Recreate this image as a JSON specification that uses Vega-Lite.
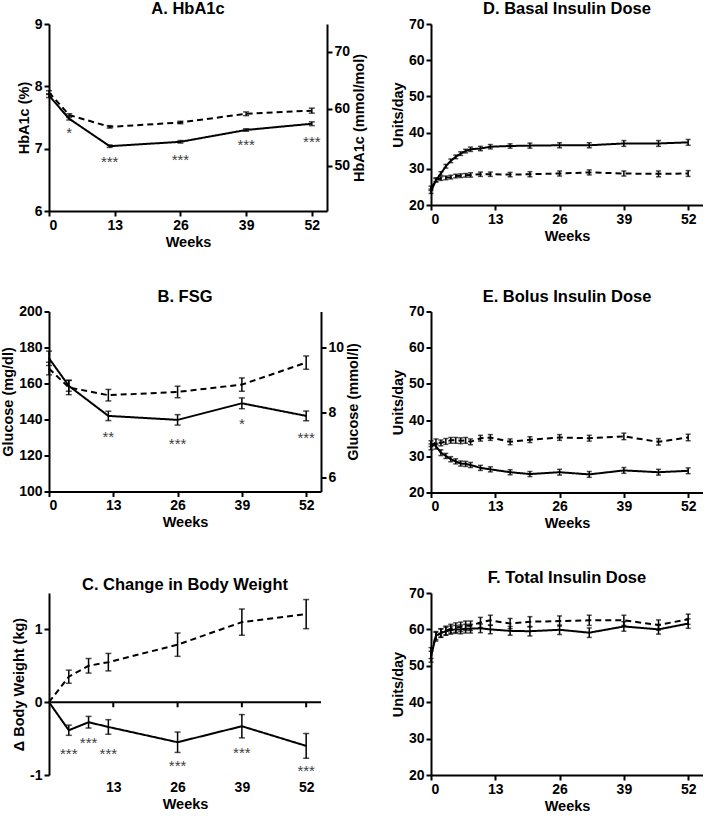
{
  "$schema": "https://vega.github.io/schema/vega-lite/v6.json",
  "padding": {"left": 0, "top": 1, "right": 0, "bottom": 0},
  "datasets": {
    "hba1c": [
      {"week": 0, "arm": "Active", "mean": 7.85, "se": 0.03},
      {"week": 4, "arm": "Active", "mean": 7.48, "se": 0.02},
      {"week": 12, "arm": "Active", "mean": 7.04, "se": 0.02},
      {"week": 26, "arm": "Active", "mean": 7.11, "se": 0.02},
      {"week": 39, "arm": "Active", "mean": 7.30, "se": 0.02},
      {"week": 52, "arm": "Active", "mean": 7.40, "se": 0.03},
      {"week": 0, "arm": "Control", "mean": 7.90, "se": 0.03},
      {"week": 4, "arm": "Control", "mean": 7.54, "se": 0.02},
      {"week": 12, "arm": "Control", "mean": 7.35, "se": 0.02},
      {"week": 26, "arm": "Control", "mean": 7.42, "se": 0.02},
      {"week": 39, "arm": "Control", "mean": 7.56, "se": 0.03},
      {"week": 52, "arm": "Control", "mean": 7.61, "se": 0.04}
    ],
    "fsg": [
      {"week": 0, "arm": "Active", "mean": 174, "se": 4},
      {"week": 4, "arm": "Active", "mean": 158.7, "se": 3},
      {"week": 12, "arm": "Active", "mean": 142, "se": 2.6},
      {"week": 26, "arm": "Active", "mean": 139.8, "se": 2.9},
      {"week": 39, "arm": "Active", "mean": 149, "se": 3},
      {"week": 52, "arm": "Active", "mean": 142, "se": 2.7},
      {"week": 0, "arm": "Control", "mean": 168.3, "se": 3.5},
      {"week": 4, "arm": "Control", "mean": 157.8, "se": 4},
      {"week": 12, "arm": "Control", "mean": 153.5, "se": 3.2},
      {"week": 26, "arm": "Control", "mean": 155.3, "se": 3.2},
      {"week": 39, "arm": "Control", "mean": 159.4, "se": 3.7},
      {"week": 52, "arm": "Control", "mean": 171.6, "se": 3.7}
    ],
    "weight": [
      {"week": 0, "arm": "Active", "mean": 0, "se": 0},
      {"week": 4, "arm": "Active", "mean": -0.385, "se": 0.07},
      {"week": 8, "arm": "Active", "mean": -0.275, "se": 0.08},
      {"week": 12, "arm": "Active", "mean": -0.34, "se": 0.10},
      {"week": 26, "arm": "Active", "mean": -0.55, "se": 0.14},
      {"week": 39, "arm": "Active", "mean": -0.33, "se": 0.16},
      {"week": 52, "arm": "Active", "mean": -0.60, "se": 0.17},
      {"week": 0, "arm": "Control", "mean": 0, "se": 0},
      {"week": 4, "arm": "Control", "mean": 0.35, "se": 0.09},
      {"week": 8, "arm": "Control", "mean": 0.50, "se": 0.10},
      {"week": 12, "arm": "Control", "mean": 0.55, "se": 0.12},
      {"week": 26, "arm": "Control", "mean": 0.79, "se": 0.16},
      {"week": 39, "arm": "Control", "mean": 1.10, "se": 0.18},
      {"week": 52, "arm": "Control", "mean": 1.21, "se": 0.20}
    ],
    "basal": [
      {"week": 0, "arm": "Active", "mean": 23.8, "se": 0.6},
      {"week": 1, "arm": "Active", "mean": 26.8, "se": 0.5},
      {"week": 2, "arm": "Active", "mean": 28.7, "se": 0.5},
      {"week": 3, "arm": "Active", "mean": 30.7, "se": 0.5},
      {"week": 4, "arm": "Active", "mean": 32.2, "se": 0.5},
      {"week": 5, "arm": "Active", "mean": 33.3, "se": 0.5},
      {"week": 6, "arm": "Active", "mean": 34.2, "se": 0.5},
      {"week": 7, "arm": "Active", "mean": 34.9, "se": 0.5},
      {"week": 8, "arm": "Active", "mean": 35.4, "se": 0.6},
      {"week": 10, "arm": "Active", "mean": 35.6, "se": 0.6},
      {"week": 12, "arm": "Active", "mean": 36.1, "se": 0.6},
      {"week": 16, "arm": "Active", "mean": 36.3, "se": 0.6},
      {"week": 20, "arm": "Active", "mean": 36.4, "se": 0.7},
      {"week": 26, "arm": "Active", "mean": 36.5, "se": 0.7},
      {"week": 32, "arm": "Active", "mean": 36.5, "se": 0.7},
      {"week": 39, "arm": "Active", "mean": 37.0, "se": 0.8},
      {"week": 46, "arm": "Active", "mean": 37.0, "se": 0.8},
      {"week": 52, "arm": "Active", "mean": 37.3, "se": 0.8},
      {"week": 0, "arm": "Control", "mean": 24.6, "se": 0.6},
      {"week": 1, "arm": "Control", "mean": 27.0, "se": 0.5},
      {"week": 2, "arm": "Control", "mean": 27.3, "se": 0.5},
      {"week": 3, "arm": "Control", "mean": 27.5, "se": 0.5},
      {"week": 4, "arm": "Control", "mean": 27.7, "se": 0.5},
      {"week": 5, "arm": "Control", "mean": 28.0, "se": 0.5},
      {"week": 6, "arm": "Control", "mean": 28.1, "se": 0.5},
      {"week": 7, "arm": "Control", "mean": 28.2, "se": 0.5},
      {"week": 8, "arm": "Control", "mean": 28.3, "se": 0.6},
      {"week": 10, "arm": "Control", "mean": 28.5, "se": 0.6},
      {"week": 12, "arm": "Control", "mean": 28.5, "se": 0.6},
      {"week": 16, "arm": "Control", "mean": 28.4, "se": 0.6},
      {"week": 20, "arm": "Control", "mean": 28.5, "se": 0.7},
      {"week": 26, "arm": "Control", "mean": 28.7, "se": 0.7},
      {"week": 32, "arm": "Control", "mean": 29.0, "se": 0.7},
      {"week": 39, "arm": "Control", "mean": 28.7, "se": 0.7},
      {"week": 46, "arm": "Control", "mean": 28.6, "se": 0.8},
      {"week": 52, "arm": "Control", "mean": 28.7, "se": 0.8}
    ],
    "bolus": [
      {"week": 0, "arm": "Active", "mean": 33.5, "se": 0.8},
      {"week": 1, "arm": "Active", "mean": 32.8, "se": 0.8},
      {"week": 2, "arm": "Active", "mean": 31.0, "se": 0.8},
      {"week": 3, "arm": "Active", "mean": 30.1, "se": 0.7},
      {"week": 4, "arm": "Active", "mean": 29.2, "se": 0.7},
      {"week": 5, "arm": "Active", "mean": 28.6, "se": 0.7},
      {"week": 6, "arm": "Active", "mean": 28.0, "se": 0.7},
      {"week": 7, "arm": "Active", "mean": 27.9, "se": 0.7},
      {"week": 8, "arm": "Active", "mean": 27.6, "se": 0.7},
      {"week": 10, "arm": "Active", "mean": 26.8, "se": 0.7},
      {"week": 12, "arm": "Active", "mean": 26.4, "se": 0.7},
      {"week": 16, "arm": "Active", "mean": 25.6, "se": 0.7},
      {"week": 20, "arm": "Active", "mean": 25.1, "se": 0.7},
      {"week": 26, "arm": "Active", "mean": 25.6, "se": 0.8},
      {"week": 32, "arm": "Active", "mean": 25.0, "se": 0.8},
      {"week": 39, "arm": "Active", "mean": 26.1, "se": 0.8},
      {"week": 46, "arm": "Active", "mean": 25.6, "se": 0.8},
      {"week": 52, "arm": "Active", "mean": 26.0, "se": 0.8},
      {"week": 0, "arm": "Control", "mean": 32.6, "se": 0.8},
      {"week": 1, "arm": "Control", "mean": 34.0, "se": 0.8},
      {"week": 2, "arm": "Control", "mean": 33.7, "se": 0.8},
      {"week": 3, "arm": "Control", "mean": 34.1, "se": 0.8},
      {"week": 4, "arm": "Control", "mean": 34.4, "se": 0.8},
      {"week": 5, "arm": "Control", "mean": 34.4, "se": 0.8},
      {"week": 6, "arm": "Control", "mean": 34.3, "se": 0.8},
      {"week": 7, "arm": "Control", "mean": 34.4, "se": 0.8},
      {"week": 8, "arm": "Control", "mean": 34.0, "se": 0.8},
      {"week": 10, "arm": "Control", "mean": 35.0, "se": 0.8},
      {"week": 12, "arm": "Control", "mean": 35.2, "se": 0.8},
      {"week": 16, "arm": "Control", "mean": 34.0, "se": 0.8},
      {"week": 20, "arm": "Control", "mean": 34.6, "se": 0.8},
      {"week": 26, "arm": "Control", "mean": 35.2, "se": 0.8},
      {"week": 32, "arm": "Control", "mean": 35.0, "se": 0.8},
      {"week": 39, "arm": "Control", "mean": 35.5, "se": 0.9},
      {"week": 46, "arm": "Control", "mean": 34.0, "se": 0.9},
      {"week": 52, "arm": "Control", "mean": 35.2, "se": 0.9}
    ],
    "total": [
      {"week": 0, "arm": "Active", "mean": 52.5, "se": 1.5},
      {"week": 1, "arm": "Active", "mean": 58.3, "se": 1.1},
      {"week": 2, "arm": "Active", "mean": 59.0, "se": 1.1},
      {"week": 3, "arm": "Active", "mean": 59.5, "se": 1.1},
      {"week": 4, "arm": "Active", "mean": 59.8, "se": 1.1},
      {"week": 5, "arm": "Active", "mean": 60.0, "se": 1.1},
      {"week": 6, "arm": "Active", "mean": 60.0, "se": 1.2},
      {"week": 7, "arm": "Active", "mean": 60.2, "se": 1.2},
      {"week": 8, "arm": "Active", "mean": 60.2, "se": 1.2},
      {"week": 10, "arm": "Active", "mean": 60.3, "se": 1.2},
      {"week": 12, "arm": "Active", "mean": 60.0, "se": 1.2},
      {"week": 16, "arm": "Active", "mean": 59.6, "se": 1.2},
      {"week": 20, "arm": "Active", "mean": 59.5, "se": 1.3},
      {"week": 26, "arm": "Active", "mean": 59.9, "se": 1.3},
      {"week": 32, "arm": "Active", "mean": 59.1, "se": 1.3},
      {"week": 39, "arm": "Active", "mean": 60.8, "se": 1.3},
      {"week": 46, "arm": "Active", "mean": 60.0, "se": 1.3},
      {"week": 52, "arm": "Active", "mean": 61.6, "se": 1.3},
      {"week": 0, "arm": "Control", "mean": 53.5, "se": 1.5},
      {"week": 1, "arm": "Control", "mean": 58.0, "se": 1.2},
      {"week": 2, "arm": "Control", "mean": 59.0, "se": 1.2},
      {"week": 3, "arm": "Control", "mean": 59.7, "se": 1.2},
      {"week": 4, "arm": "Control", "mean": 60.2, "se": 1.2},
      {"week": 5, "arm": "Control", "mean": 60.5, "se": 1.3},
      {"week": 6, "arm": "Control", "mean": 60.7, "se": 1.3},
      {"week": 7, "arm": "Control", "mean": 61.0, "se": 1.3},
      {"week": 8, "arm": "Control", "mean": 61.0, "se": 1.3},
      {"week": 10, "arm": "Control", "mean": 61.9, "se": 1.4},
      {"week": 12, "arm": "Control", "mean": 62.5, "se": 1.4},
      {"week": 16, "arm": "Control", "mean": 61.6, "se": 1.4},
      {"week": 20, "arm": "Control", "mean": 62.1, "se": 1.4},
      {"week": 26, "arm": "Control", "mean": 62.3, "se": 1.4},
      {"week": 32, "arm": "Control", "mean": 62.5, "se": 1.4},
      {"week": 39, "arm": "Control", "mean": 62.5, "se": 1.4},
      {"week": 46, "arm": "Control", "mean": 61.2, "se": 1.4},
      {"week": 52, "arm": "Control", "mean": 62.8, "se": 1.4}
    ],
    "starsA": [
      {"week": 4, "y": 7.30, "label": "*"},
      {"week": 12, "y": 6.84, "label": "***"},
      {"week": 26, "y": 6.86, "label": "***"},
      {"week": 39, "y": 7.10, "label": "***"},
      {"week": 52, "y": 7.15, "label": "***"}
    ],
    "starsB": [
      {"week": 12, "y": 132, "label": "**"},
      {"week": 26, "y": 128, "label": "***"},
      {"week": 39, "y": 139, "label": "*"},
      {"week": 52, "y": 131.5, "label": "***"}
    ],
    "starsC": [
      {"week": 4, "y": -0.67, "label": "***"},
      {"week": 8, "y": -0.52, "label": "***"},
      {"week": 12, "y": -0.67, "label": "***"},
      {"week": 26, "y": -0.84, "label": "***"},
      {"week": 39, "y": -0.65, "label": "***"},
      {"week": 52, "y": -0.91, "label": "***"}
    ],
    "ticksC": [{"week": 13}, {"week": 26}, {"week": 39}, {"week": 52}]
  },
  "columns": 2,
  "spacing": {"row": 39.5, "column": 23},
  "concat": [
    {
      "title": "A. HbA1c",
      "width": 278, "height": 187,
      "layer": [
        {
          "layer": [
            {
              "data": {"name": "hba1c"},
              "mark": {"type": "line", "color": "black", "strokeWidth": 2},
              "encoding": {
                "x": {"field": "week", "type": "quantitative", "title": "Weeks", "scale": {"domain": [0, 55], "nice": false}, "axis": {"values": [0, 13, 26, 39, 52], "titlePadding": 3}},
                "y": {"field": "mean", "type": "quantitative", "title": "HbA1c (%)", "scale": {"domain": [6, 9], "nice": false, "zero": false}, "axis": {"values": [6, 7, 8, 9], "format": "d"}},
                "strokeDash": {"field": "arm", "type": "nominal", "scale": {"domain": ["Active", "Control"], "range": [[1, 0], [6, 4]]}, "legend": null}
              }
            },
            {
              "data": {"name": "hba1c"},
              "mark": {"type": "errorbar", "color": "black", "ticks": {"size": 6, "thickness": 1.5}, "rule": {"strokeWidth": 1.5}},
              "encoding": {
                "x": {"field": "week", "type": "quantitative", "title": "Weeks"},
                "y": {"field": "mean", "type": "quantitative", "title": "HbA1c (%)", "scale": {"domain": [6, 9], "nice": false, "zero": false}, "axis": {"values": [6, 7, 8, 9], "format": "d"}},
                "yError": {"field": "se"}
              }
            },
            {
              "data": {"name": "starsA"},
              "mark": {"type": "text", "fontSize": 15, "color": "#404040", "baseline": "middle", "dy": 3},
              "encoding": {
                "x": {"field": "week", "type": "quantitative", "title": "Weeks"},
                "y": {"field": "y", "type": "quantitative", "title": "HbA1c (%)", "scale": {"domain": [6, 9], "nice": false, "zero": false}, "axis": {"values": [6, 7, 8, 9], "format": "d"}},
                "text": {"field": "label"}
              }
            }
          ]
        },
        {
          "data": {"values": [{}]},
          "mark": {"type": "rule", "opacity": 0},
          "encoding": {
            "y": {"datum": 60, "type": "quantitative", "scale": {"domain": [42.08, 74.86], "nice": false, "zero": false}, "axis": {"orient": "right", "title": "HbA1c (mmol/mol)", "values": [50, 60, 70], "format": "d", "titleAngle": 270, "titleBaseline": "top"}}
          }
        }
      ],
      "resolve": {"scale": {"y": "independent"}}
    },
    {
      "title": "D. Basal Insulin Dose",
      "width": 272, "height": 181,
      "data": {"name": "basal"},
      "encoding": {
        "x": {"field": "week", "type": "quantitative", "title": "Weeks", "scale": {"domain": [0, 55], "nice": false}, "axis": {"values": [0, 13, 26, 39, 52], "titlePadding": 3}},
        "y": {"field": "mean", "type": "quantitative", "title": "Units/day", "scale": {"domain": [20, 70], "nice": false, "zero": false}, "axis": {"values": [20, 30, 40, 50, 60, 70], "format": "d"}}
      },
      "layer": [
        {
          "mark": {"type": "line", "color": "black", "strokeWidth": 2},
          "encoding": {
            "strokeDash": {"field": "arm", "type": "nominal", "scale": {"domain": ["Active", "Control"], "range": [[1, 0], [6, 4]]}, "legend": null}
          }
        },
        {
          "mark": {"type": "errorbar", "color": "black", "ticks": {"size": 5, "thickness": 1.5}, "rule": {"strokeWidth": 1.5}},
          "encoding": {"yError": {"field": "se"}}
        }
      ]
    },
    {
      "title": "B. FSG",
      "width": 272, "height": 180,
      "layer": [
        {
          "layer": [
            {
              "data": {"name": "fsg"},
              "mark": {"type": "line", "color": "black", "strokeWidth": 2},
              "encoding": {
                "x": {"field": "week", "type": "quantitative", "title": "Weeks", "scale": {"domain": [0, 55], "nice": false}, "axis": {"values": [0, 13, 26, 39, 52], "titlePadding": 3}},
                "y": {"field": "mean", "type": "quantitative", "title": "Glucose (mg/dl)", "scale": {"domain": [100, 200], "nice": false, "zero": false}, "axis": {"values": [100, 120, 140, 160, 180, 200], "format": "d"}},
                "strokeDash": {"field": "arm", "type": "nominal", "scale": {"domain": ["Active", "Control"], "range": [[1, 0], [6, 4]]}, "legend": null}
              }
            },
            {
              "data": {"name": "fsg"},
              "mark": {"type": "errorbar", "color": "black", "ticks": {"size": 6, "thickness": 1.5}, "rule": {"strokeWidth": 1.5}},
              "encoding": {
                "x": {"field": "week", "type": "quantitative", "title": "Weeks"},
                "y": {"field": "mean", "type": "quantitative", "title": "Glucose (mg/dl)", "scale": {"domain": [100, 200], "nice": false, "zero": false}, "axis": {"values": [100, 120, 140, 160, 180, 200], "format": "d"}},
                "yError": {"field": "se"}
              }
            },
            {
              "data": {"name": "starsB"},
              "mark": {"type": "text", "fontSize": 15, "color": "#404040", "baseline": "middle", "dy": 3},
              "encoding": {
                "x": {"field": "week", "type": "quantitative", "title": "Weeks"},
                "y": {"field": "y", "type": "quantitative", "title": "Glucose (mg/dl)", "scale": {"domain": [100, 200], "nice": false, "zero": false}, "axis": {"values": [100, 120, 140, 160, 180, 200], "format": "d"}},
                "text": {"field": "label"}
              }
            }
          ]
        },
        {
          "data": {"values": [{}]},
          "mark": {"type": "rule", "opacity": 0},
          "encoding": {
            "y": {"datum": 8, "type": "quantitative", "scale": {"domain": [5.556, 11.111], "nice": false, "zero": false}, "axis": {"orient": "right", "title": "Glucose (mmol/l)", "values": [6, 8, 10], "format": "d", "titleAngle": 270, "titleBaseline": "top"}}
          }
        }
      ],
      "resolve": {"scale": {"y": "independent"}}
    },
    {
      "title": "E. Bolus Insulin Dose",
      "width": 272, "height": 181,
      "data": {"name": "bolus"},
      "encoding": {
        "x": {"field": "week", "type": "quantitative", "title": "Weeks", "scale": {"domain": [0, 55], "nice": false}, "axis": {"values": [0, 13, 26, 39, 52], "titlePadding": 3}},
        "y": {"field": "mean", "type": "quantitative", "title": "Units/day", "scale": {"domain": [20, 70], "nice": false, "zero": false}, "axis": {"values": [20, 30, 40, 50, 60, 70], "format": "d"}}
      },
      "layer": [
        {
          "mark": {"type": "line", "color": "black", "strokeWidth": 2},
          "encoding": {
            "strokeDash": {"field": "arm", "type": "nominal", "scale": {"domain": ["Active", "Control"], "range": [[1, 0], [6, 4]]}, "legend": null}
          }
        },
        {
          "mark": {"type": "errorbar", "color": "black", "ticks": {"size": 5, "thickness": 1.5}, "rule": {"strokeWidth": 1.5}},
          "encoding": {"yError": {"field": "se"}}
        }
      ]
    },
    {
      "title": "C. Change in Body Weight",
      "width": 272, "height": 182,
      "layer": [
        {
          "data": {"values": [{}]},
          "mark": {"type": "rule", "color": "black", "strokeWidth": 2},
          "encoding": {
            "y": {"datum": 0, "type": "quantitative", "title": "Δ Body Weight (kg)", "scale": {"domain": [-1, 1.5], "nice": false, "zero": false}, "axis": {"values": [-1, 0, 1], "labelExpr": "'' + datum.value"}}
          }
        },
        {
          "data": {"name": "ticksC"},
          "mark": {"type": "rule", "color": "black", "strokeWidth": 2},
          "encoding": {
            "x": {"field": "week", "type": "quantitative", "title": "Weeks", "scale": {"domain": [0, 55], "nice": false}, "axis": {"values": [13, 26, 39, 52], "domain": false, "ticks": false, "labelPadding": 5, "titlePadding": 3}},
            "y": {"datum": 0, "type": "quantitative", "title": "Δ Body Weight (kg)", "axis": {"values": [-1, 0, 1], "labelExpr": "'' + datum.value"}},
            "y2": {"datum": -0.07}
          }
        },
        {
          "data": {"name": "weight"},
          "mark": {"type": "line", "color": "black", "strokeWidth": 2},
          "encoding": {
            "x": {"field": "week", "type": "quantitative", "title": "Weeks", "axis": {"values": [13, 26, 39, 52], "domain": false, "ticks": false, "labelPadding": 5, "titlePadding": 3}},
            "y": {"field": "mean", "type": "quantitative", "title": "Δ Body Weight (kg)", "axis": {"values": [-1, 0, 1], "labelExpr": "'' + datum.value"}},
            "strokeDash": {"field": "arm", "type": "nominal", "scale": {"domain": ["Active", "Control"], "range": [[1, 0], [6, 4]]}, "legend": null}
          }
        },
        {
          "data": {"name": "weight"},
          "transform": [{"filter": "datum.se > 0"}],
          "mark": {"type": "errorbar", "color": "black", "ticks": {"size": 6, "thickness": 1.5}, "rule": {"strokeWidth": 1.5}},
          "encoding": {
            "x": {"field": "week", "type": "quantitative", "title": "Weeks", "axis": {"values": [13, 26, 39, 52], "domain": false, "ticks": false, "labelPadding": 5, "titlePadding": 3}},
            "y": {"field": "mean", "type": "quantitative", "title": "Δ Body Weight (kg)", "axis": {"values": [-1, 0, 1], "labelExpr": "'' + datum.value"}},
            "yError": {"field": "se"}
          }
        },
        {
          "data": {"name": "starsC"},
          "mark": {"type": "text", "fontSize": 15, "color": "#404040", "baseline": "middle", "dy": 3},
          "encoding": {
            "x": {"field": "week", "type": "quantitative", "title": "Weeks", "axis": {"values": [13, 26, 39, 52], "domain": false, "ticks": false, "labelPadding": 5, "titlePadding": 3}},
            "y": {"field": "y", "type": "quantitative", "title": "Δ Body Weight (kg)", "axis": {"values": [-1, 0, 1], "labelExpr": "'' + datum.value"}},
            "text": {"field": "label"}
          }
        }
      ]
    },
    {
      "title": "F. Total Insulin Dose",
      "width": 272, "height": 182,
      "data": {"name": "total"},
      "encoding": {
        "x": {"field": "week", "type": "quantitative", "title": "Weeks", "scale": {"domain": [0, 55], "nice": false}, "axis": {"values": [0, 13, 26, 39, 52], "titlePadding": 3}},
        "y": {"field": "mean", "type": "quantitative", "title": "Units/day", "scale": {"domain": [20, 70], "nice": false, "zero": false}, "axis": {"values": [20, 30, 40, 50, 60, 70], "format": "d"}}
      },
      "layer": [
        {
          "mark": {"type": "line", "color": "black", "strokeWidth": 2},
          "encoding": {
            "strokeDash": {"field": "arm", "type": "nominal", "scale": {"domain": ["Active", "Control"], "range": [[1, 0], [6, 4]]}, "legend": null}
          }
        },
        {
          "mark": {"type": "errorbar", "color": "black", "ticks": {"size": 5, "thickness": 1.5}, "rule": {"strokeWidth": 1.5}},
          "encoding": {"yError": {"field": "se"}}
        }
      ]
    }
  ],
  "config": {
    "font": "Liberation Sans",
    "view": {"stroke": null},
    "axis": {
      "domainColor": "black", "domainWidth": 2,
      "tickColor": "black", "tickWidth": 2, "tickSize": 5,
      "labelFont": "Liberation Sans", "labelFontSize": 14, "labelFontWeight": "bold", "labelColor": "black", "labelPadding": 2,
      "titleFont": "Liberation Sans", "titleFontSize": 14.5, "titleFontWeight": "bold", "titleColor": "black", "titlePadding": 3,
      "grid": false
    },
    "title": {"font": "Liberation Sans", "fontSize": 16.5, "fontWeight": "bold", "color": "black", "anchor": "middle", "frame": "group", "offset": -0.5}
  }
}
